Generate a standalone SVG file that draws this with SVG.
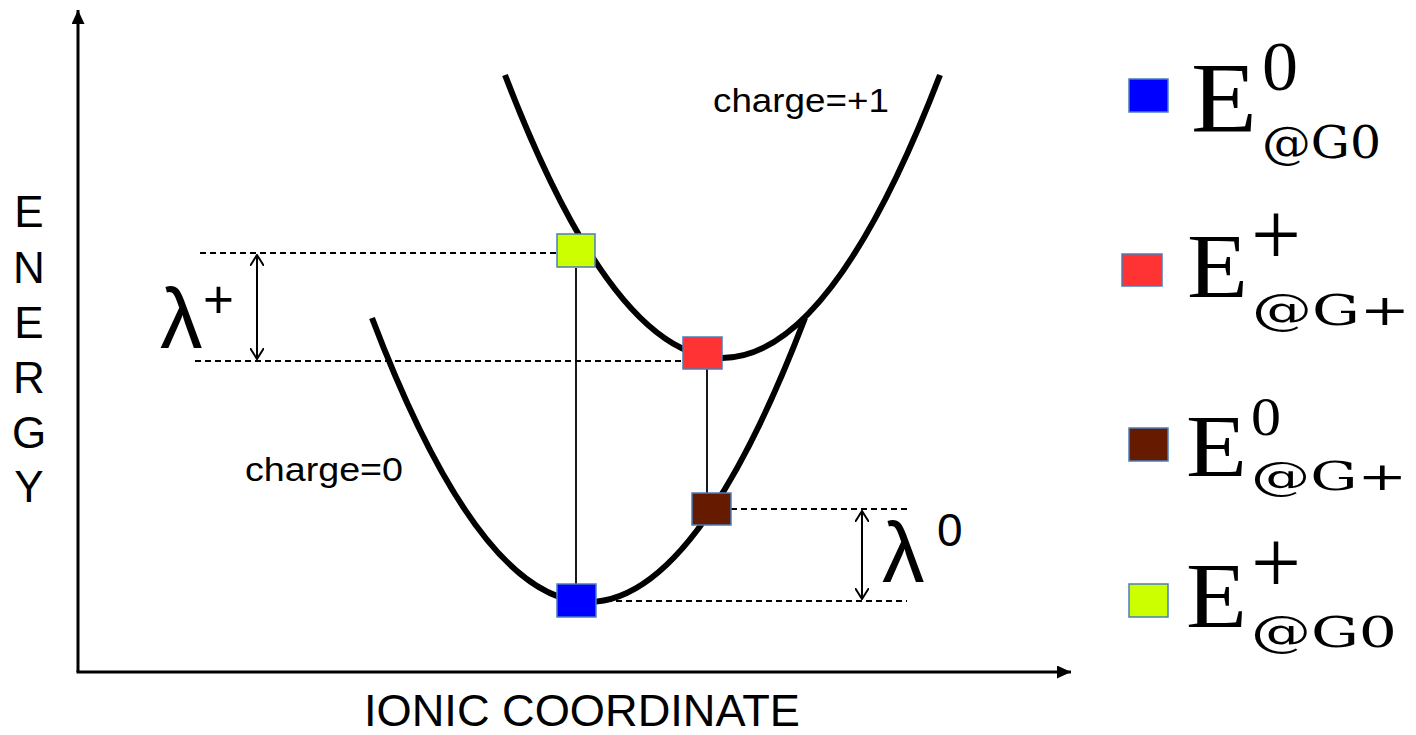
<svg xmlns="http://www.w3.org/2000/svg" width="1416" height="735" viewBox="0 0 1416 735">
<style>
.axis{stroke:#000;stroke-width:3;fill:none}
.curve{stroke:#000;stroke-width:6;fill:none}
.dash{stroke:#000;stroke-width:2;stroke-dasharray:6,4;fill:none}
.thin{stroke:#000;stroke-width:1.8;fill:none}
.dbl{stroke:#000;stroke-width:2;fill:none}
.sq{stroke:#4A7EBB;stroke-width:1.5}
.sans{font-family:"Liberation Sans",Arial,sans-serif;fill:#000}
.serif{font-family:"Liberation Serif","Times New Roman",serif;fill:#000}
.sub{font-family:"DejaVu Serif","Liberation Serif",serif;fill:#000}
</style>
<defs>
<marker id="tri" viewBox="0 0 14 13" refX="14" refY="6.5" markerWidth="14" markerHeight="13" markerUnits="userSpaceOnUse" orient="auto">
<path d="M0,0 L14,6.5 L0,13 Z" fill="#000"/>
</marker>
<marker id="open" viewBox="0 0 12 14" refX="11" refY="7" markerWidth="12" markerHeight="14" markerUnits="userSpaceOnUse" orient="auto-start-reverse">
<path d="M0,0 L11,7 L0,14" fill="none" stroke="#000" stroke-width="2"/>
</marker>
</defs>
<rect width="1416" height="735" fill="#fff"/>

<g id="axes">
<line class="axis" x1="78" y1="672" x2="78" y2="10" marker-end="url(#tri)"/>
<line class="axis" x1="76.5" y1="672" x2="1071" y2="672" marker-end="url(#tri)"/>
</g>

<g id="curves">
<path id="curve-plus" class="curve" d="M505,75 Q722,641 940,75"/>
<path id="curve-zero" class="curve" d="M372,318 Q588,886 805,318"/>
</g>

<g id="connectors">
<line class="dash" x1="200" y1="253" x2="556" y2="253"/>
<line class="dash" x1="195" y1="361" x2="684" y2="361"/>
<line class="dash" x1="731" y1="509" x2="907" y2="509"/>
<line class="dash" x1="596" y1="601" x2="907" y2="601"/>
<line class="thin" x1="576" y1="268" x2="576" y2="584"/>
<line class="thin" x1="707" y1="369" x2="707" y2="493"/>
<line class="dbl" x1="257" y1="255" x2="257" y2="359" marker-start="url(#open)" marker-end="url(#open)"/>
<line class="dbl" x1="862" y1="511" x2="862" y2="599" marker-start="url(#open)" marker-end="url(#open)"/>
</g>

<g id="points">
<rect id="pt-yellow" class="sq" x="557" y="234" width="38" height="33" fill="#CCFF00"/>
<rect id="pt-red" class="sq" x="683" y="337" width="39" height="32" fill="#FF3333"/>
<rect id="pt-brown" class="sq" x="692" y="493" width="39" height="32" fill="#661A00"/>
<rect id="pt-blue" class="sq" x="557" y="584" width="39" height="33" fill="#0000FF"/>
</g>

<g id="labels">
<text class="sans" x="713" y="112" font-size="34" textLength="176" lengthAdjust="spacingAndGlyphs">charge=+1</text>
<text class="sans" x="245" y="481" font-size="34" textLength="158" lengthAdjust="spacingAndGlyphs">charge=0</text>
<text class="sans" x="582" y="726" font-size="44" text-anchor="middle" textLength="436" lengthAdjust="spacingAndGlyphs">IONIC COORDINATE</text>
<g font-size="44" text-anchor="middle" class="sans">
<text class="sans" x="29" y="227">E</text>
<text class="sans" x="29" y="283">N</text>
<text class="sans" x="29" y="338">E</text>
<text class="sans" x="29" y="393">R</text>
<text class="sans" x="29" y="448">G</text>
<text class="sans" x="29" y="502">Y</text>
</g>
<text class="sans" x="160" y="348" font-size="85">λ</text>
<text class="sans" x="203" y="318" font-size="53">+</text>
<text class="sans" x="882" y="582" font-size="85">λ</text>
<text class="sans" x="937" y="546" font-size="46">0</text>
</g>

<g id="legend-1">
<rect class="sq" x="1129" y="79" width="39" height="33" fill="#0000FF"/>
<text class="serif" x="1191" y="131" font-size="100" textLength="66" lengthAdjust="spacingAndGlyphs">E</text>
<text class="serif" x="1262" y="90" font-size="70" textLength="36" lengthAdjust="spacingAndGlyphs">0</text>
<text class="sub" x="1262" y="158" font-size="44" textLength="119" lengthAdjust="spacingAndGlyphs">@G0</text>
</g>
<g id="legend-2">
<rect class="sq" x="1122" y="254" width="40" height="32" fill="#FF3333"/>
<text class="serif" x="1187" y="297" font-size="90" textLength="61" lengthAdjust="spacingAndGlyphs">E</text>
<text class="serif" x="1251" y="265" font-size="90" textLength="50" lengthAdjust="spacingAndGlyphs">+</text>
<text class="sub" x="1252" y="325" font-size="42" textLength="158" lengthAdjust="spacingAndGlyphs">@G+</text>
</g>
<g id="legend-3">
<rect class="sq" x="1129" y="428" width="39" height="33" fill="#661A00"/>
<text class="serif" x="1186" y="476" font-size="89" textLength="61" lengthAdjust="spacingAndGlyphs">E</text>
<text class="serif" x="1251" y="435" font-size="55" textLength="30" lengthAdjust="spacingAndGlyphs">0</text>
<text class="sub" x="1251" y="490" font-size="40" textLength="156" lengthAdjust="spacingAndGlyphs">@G+</text>
</g>
<g id="legend-4">
<rect class="sq" x="1129" y="584" width="39" height="33" fill="#CCFF00"/>
<text class="serif" x="1186" y="627" font-size="93" textLength="61" lengthAdjust="spacingAndGlyphs">E</text>
<text class="serif" x="1251" y="593" font-size="90" textLength="50" lengthAdjust="spacingAndGlyphs">+</text>
<text class="sub" x="1251" y="647" font-size="42" textLength="146" lengthAdjust="spacingAndGlyphs">@G0</text>
</g>
</svg>
